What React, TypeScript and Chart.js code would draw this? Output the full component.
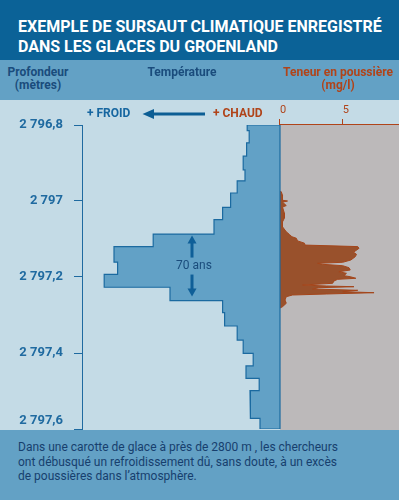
import React, { useEffect, useRef } from "react";
import { Chart, registerables } from "chart.js";

Chart.register(...registerables);

// ---------- Texts ----------
const TITLE_LINES = ["EXEMPLE DE SURSAUT CLIMATIQUE ENREGISTRÉ", "DANS LES GLACES DU GROENLAND"];
const DEPTH_LABEL = ["Profondeur", "(mètres)"];
const TEMP_LABEL = "Température";
const DUST_LABEL = ["Teneur en poussière", "(mg/l)"];
const COLD_LABEL = "+ FROID";
const WARM_LABEL = "+ CHAUD";
const DURATION_LABEL = "70 ans";
const CAPTION_LINES = [
  "Dans une carotte de glace à près de 2800 m , les chercheurs",
  "ont débusqué un refroidissement dû, sans doute, à un excès",
  "de poussières dans l’atmosphère.",
];

// ---------- Depth axis (m) ----------
const DEPTH_MIN = 2796.8;
const DEPTH_MAX = 2797.6;
const DEPTH_TICKS = [2796.8, 2797.0, 2797.2, 2797.4, 2797.6];
const DEPTH_TICK_LABELS = ["2 796,8", "2 797", "2 797,2", "2 797,4", "2 797,6"];

// ---------- Temperature (relative units, 0 = warm reference, negative = colder) ----------
const TEMP_MIN = -99;
const TEMP_MAX = 59.5;
const TEMP_BOUNDARIES = [
  2796.8, 2796.815, 2796.847, 2796.882, 2796.918, 2796.947, 2796.979, 2797.017,
  2797.049, 2797.087, 2797.12, 2797.161, 2797.193, 2797.227, 2797.262, 2797.294,
  2797.329, 2797.366, 2797.401, 2797.434, 2797.467, 2797.499, 2797.537, 2797.572, 2797.6,
];
const TEMP_VALUES = [
  -16.4, -15.4, -16.7, -18.4, -17.5, -21.4, -24.7, -28.7, -33, -63.4, -83, -81.2,
  -87.9, -55, -28.7, -27.7, -21.4, -18.4, -13.4, -17, -10.4, -15, -14.7, -10,
];

// ---------- Dust (mg/l) ----------
const DUST_MIN = -15.79;
const DUST_MAX = 9.49;
const DUST_TICKS = [0, 5];
const DUST_DEPTHS = [
  2796.9745, 2796.9755, 2796.985, 2796.998, 2797.0, 2797.003, 2797.012, 2797.016,
  2797.032, 2797.045, 2797.055, 2797.068, 2797.081, 2797.088, 2797.094, 2797.098,
  2797.105, 2797.111, 2797.116, 2797.12, 2797.1245, 2797.1316, 2797.1345, 2797.1403,
  2797.1466, 2797.1553, 2797.1613, 2797.1639, 2797.1666, 2797.1703, 2797.1755, 2797.1816,
  2797.1861, 2797.1903, 2797.1966, 2797.1992, 2797.2034, 2797.2061, 2797.2105, 2797.2166,
  2797.2211, 2797.2237, 2797.2255, 2797.2282, 2797.2316, 2797.235, 2797.2387, 2797.2413,
  2797.2447, 2797.2474, 2797.2518, 2797.2605, 2797.2692, 2797.2782, 2797.2816,
];
const DUST_VALUES = [
  0, 0.1, 0.2, 0.2, 0.6, 0.2, 0.5, 0.2,
  0.35, 0.35, 0.2, 0.2, 0.5, 0.75, 0.95, 1.3,
  1.4, 1.95, 2.0, 6.2, 6.3, 6.0, 5.85, 6.1,
  6.0, 5.65, 5.0, 3.0, 3.4, 5.0, 5.5, 5.6,
  4.7, 5.3, 5.1, 5.6, 6.05, 4.6, 4.3, 4.2,
  1.8, 3.7, 5.9, 3.1, 2.6, 6.2, 5.0, 7.5,
  3.7, 1.0, 0.5, 0.4, 0.5, 0.2, 0,
];

// ---------- Annotation (duration of the cold event) ----------
const EVENT_TOP = 2797.087;
const EVENT_BOTTOM = 2797.262;
const EVENT_ARROW_X = -44; // temperature units

// ---------- Colours ----------
const C_HEADER = "#0b6297";
const C_BAND = "#63a1c5";
const C_MAIN = "#c4dbe6";
const C_GRAY = "#bcb9ba";
const C_TEMP_FILL = "#62a1c6";
const C_TEMP_LINE = "#1b6aa0";
const C_DUST_FILL = "#99512c";
const C_DUST_LINE = "#a4461b";
const C_AXIS_BLUE = "#1f6aa0";
const C_NAVY = "#1a4c7c";
const C_ORANGE = "#b0441a";
const C_CAPTION = "#173f6e";

const FONT = "Roboto, 'DejaVu Sans', sans-serif";

function buildTempPolygon() {
  const pts: { x: number; y: number }[] = [];
  for (let i = 0; i < TEMP_VALUES.length; i++) {
    pts.push({ x: TEMP_VALUES[i], y: TEMP_BOUNDARIES[i] });
    pts.push({ x: TEMP_VALUES[i], y: TEMP_BOUNDARIES[i + 1] });
  }
  pts.push({ x: 0, y: TEMP_BOUNDARIES[TEMP_BOUNDARIES.length - 1] });
  pts.push({ x: 0, y: TEMP_BOUNDARIES[0] });
  pts.push({ x: TEMP_VALUES[0], y: TEMP_BOUNDARIES[0] });
  return pts;
}

function buildDustPolygon() {
  const pts = DUST_DEPTHS.map((d, i) => ({ x: DUST_VALUES[i], y: d }));
  pts.push({ x: 0, y: DUST_DEPTHS[0] });
  return pts;
}

const decorPlugin = {
  id: "decor",
  beforeDatasetsDraw(chart: any) {
    const { ctx, chartArea } = chart;
    const xD = chart.scales.xD;
    const x0 = xD.getPixelForValue(0);
    ctx.save();
    ctx.fillStyle = C_GRAY;
    ctx.fillRect(x0, chartArea.top, chartArea.right - x0, chart.height - chartArea.top);
    ctx.strokeStyle = C_ORANGE;
    ctx.lineWidth = 1;
    ctx.beginPath();
    ctx.moveTo(x0, chartArea.top - 0.5);
    ctx.lineTo(chartArea.right, chartArea.top - 0.5);
    ctx.stroke();
    ctx.restore();
  },
  afterDatasetsDraw(chart: any) {
    const { ctx } = chart;
    const xT = chart.scales.xT;
    const y = chart.scales.y;
    const ax = xT.getPixelForValue(EVENT_ARROW_X);
    const yTop = y.getPixelForValue(EVENT_TOP) + 1.5;
    const yBot = y.getPixelForValue(EVENT_BOTTOM) - 4;
    const len = 22;
    ctx.save();
    ctx.strokeStyle = "#0f5f98";
    ctx.fillStyle = "#0f5f98";
    ctx.lineWidth = 3;
    const arrow = (tipY: number, dir: number) => {
      ctx.beginPath();
      ctx.moveTo(ax, tipY + dir * 6);
      ctx.lineTo(ax, tipY + dir * len);
      ctx.stroke();
      ctx.beginPath();
      ctx.moveTo(ax, tipY);
      ctx.lineTo(ax - 4.5, tipY + dir * 8);
      ctx.lineTo(ax + 4.5, tipY + dir * 8);
      ctx.closePath();
      ctx.fill();
    };
    arrow(yTop, 1);
    arrow(yBot, -1);
    ctx.restore();
  },
};

export default function App() {
  const ref = useRef<HTMLCanvasElement>(null);

  useEffect(() => {
    if (!ref.current) return;
    const chart = new Chart(ref.current, {
      type: "scatter",
      data: {
        datasets: [
          {
            label: "Température",
            data: buildTempPolygon(),
            xAxisID: "xT",
            yAxisID: "y",
            showLine: true,
            fill: "shape",
            backgroundColor: C_TEMP_FILL,
            borderColor: C_TEMP_LINE,
            borderWidth: 1.2,
            pointRadius: 0,
            tension: 0,
          },
          {
            label: "Teneur en poussière",
            data: buildDustPolygon(),
            xAxisID: "xD",
            yAxisID: "y",
            showLine: true,
            fill: "shape",
            backgroundColor: C_DUST_FILL,
            borderColor: C_DUST_LINE,
            borderWidth: 1,
            pointRadius: 0,
            tension: 0,
          },
        ],
      },
      options: {
        animation: false,
        responsive: false,
        devicePixelRatio: 1,
        layout: { padding: { top: 0, right: 0, bottom: 1, left: 0 } },
        plugins: { legend: { display: false }, tooltip: { enabled: false } },
        events: [],
        scales: {
          xT: {
            type: "linear",
            axis: "x",
            display: false,
            min: TEMP_MIN,
            max: TEMP_MAX,
          },
          xD: {
            type: "linear",
            axis: "x",
            position: "top",
            min: DUST_MIN,
            max: DUST_MAX,
            afterBuildTicks: (s: any) => {
              s.ticks = DUST_TICKS.map((v) => ({ value: v }));
            },
            afterFit: (s: any) => {
              s.height = 25;
              s.paddingLeft = 0;
              s.paddingRight = 0;
            },
            border: { display: false },
            grid: {
              drawOnChartArea: false,
              drawTicks: true,
              tickLength: 6,
              tickColor: C_ORANGE,
              color: C_ORANGE,
            },
            ticks: {
              align: "start",
              padding: 2,
              color: C_ORANGE,
              font: { family: FONT, size: 11 },
              maxRotation: 0,
              callback: (v: any) => String(v),
            },
          },
          y: {
            type: "linear",
            position: "left",
            reverse: true,
            min: DEPTH_MIN,
            max: DEPTH_MAX,
            afterBuildTicks: (s: any) => {
              s.ticks = DEPTH_TICKS.map((v) => ({ value: v }));
            },
            afterFit: (s: any) => {
              s.width = 82;
              s.paddingTop = 0;
              s.paddingBottom = 0;
            },
            border: { display: true, color: C_AXIS_BLUE, width: 1 },
            grid: {
              drawOnChartArea: false,
              drawTicks: true,
              tickLength: 8,
              tickColor: C_AXIS_BLUE,
              color: C_AXIS_BLUE,
            },
            ticks: {
              padding: 11,
              color: C_AXIS_BLUE,
              font: { family: FONT, size: 13, weight: "bold" },
              callback: (v: any, i: number) =>
                i === DEPTH_TICKS.length - 1
                  ? [DEPTH_TICK_LABELS[i], ""]
                  : DEPTH_TICK_LABELS[i],
            },
          },
        },
      },
      plugins: [decorPlugin],
    } as any);
    return () => chart.destroy();
  }, []);

  const abs = (s: React.CSSProperties): React.CSSProperties => ({ position: "absolute", ...s });

  return (
    <div style={abs({ left: 0, top: 0, width: 399, height: 500, overflow: "hidden", fontFamily: FONT })}>
      <div style={abs({ left: 0, top: 0, width: 399, height: 60, background: C_HEADER })} />
      <div style={abs({ left: 0, top: 60, width: 399, height: 40, background: C_BAND })} />
      <div style={abs({ left: 0, top: 100, width: 399, height: 330, background: C_MAIN })} />
      <div style={abs({ left: 0, top: 430, width: 399, height: 70, background: C_BAND })} />
      <canvas ref={ref} width={399} height={330} style={abs({ left: 0, top: 100 })} />

      <div style={abs({ left: 18, top: 17, color: "#fff", fontWeight: "bold", fontSize: 16, lineHeight: "19.5px", whiteSpace: "nowrap" })}>
        {TITLE_LINES.map((l) => (
          <div key={l}>{l}</div>
        ))}
      </div>

      <div style={abs({ left: 0, top: 66, width: 76, textAlign: "center", color: C_NAVY, fontWeight: "bold", fontSize: 12, lineHeight: "13px" })}>
        {DEPTH_LABEL.map((l) => (
          <div key={l}>{l}</div>
        ))}
      </div>
      <div style={abs({ left: 122, top: 66, width: 120, textAlign: "center", color: C_NAVY, fontWeight: "bold", fontSize: 12, lineHeight: "13px" })}>
        {TEMP_LABEL}
      </div>
      <div style={abs({ left: 278, top: 66, width: 120, textAlign: "center", color: C_ORANGE, fontWeight: "bold", fontSize: 12, lineHeight: "13px", whiteSpace: "nowrap" })}>
        {DUST_LABEL.map((l) => (
          <div key={l}>{l}</div>
        ))}
      </div>

      <div style={abs({ left: 87, top: 106, color: "#1666a0", fontWeight: "bold", fontSize: 12, lineHeight: "14px" })}>{COLD_LABEL}</div>
      <svg style={abs({ left: 140, top: 107 })} width={70} height={14}>
        <line x1={12} y1={7} x2={65} y2={7} stroke="#0c5e94" strokeWidth={3.2} />
        <polygon points="2.5,7 14,2 14,12" fill="#0c5e94" />
      </svg>
      <div style={abs({ left: 213, top: 106, color: C_ORANGE, fontWeight: "bold", fontSize: 12, lineHeight: "14px" })}>{WARM_LABEL}</div>

      <div style={abs({ left: 164, top: 258, width: 60, textAlign: "center", color: C_NAVY, fontSize: 12, lineHeight: "14px" })}>{DURATION_LABEL}</div>

      <div style={abs({ left: 18, top: 440, color: C_CAPTION, fontSize: 12, lineHeight: "14.7px", whiteSpace: "nowrap" })}>
        {CAPTION_LINES.map((l) => (
          <div key={l}>{l}</div>
        ))}
      </div>
    </div>
  );
}
